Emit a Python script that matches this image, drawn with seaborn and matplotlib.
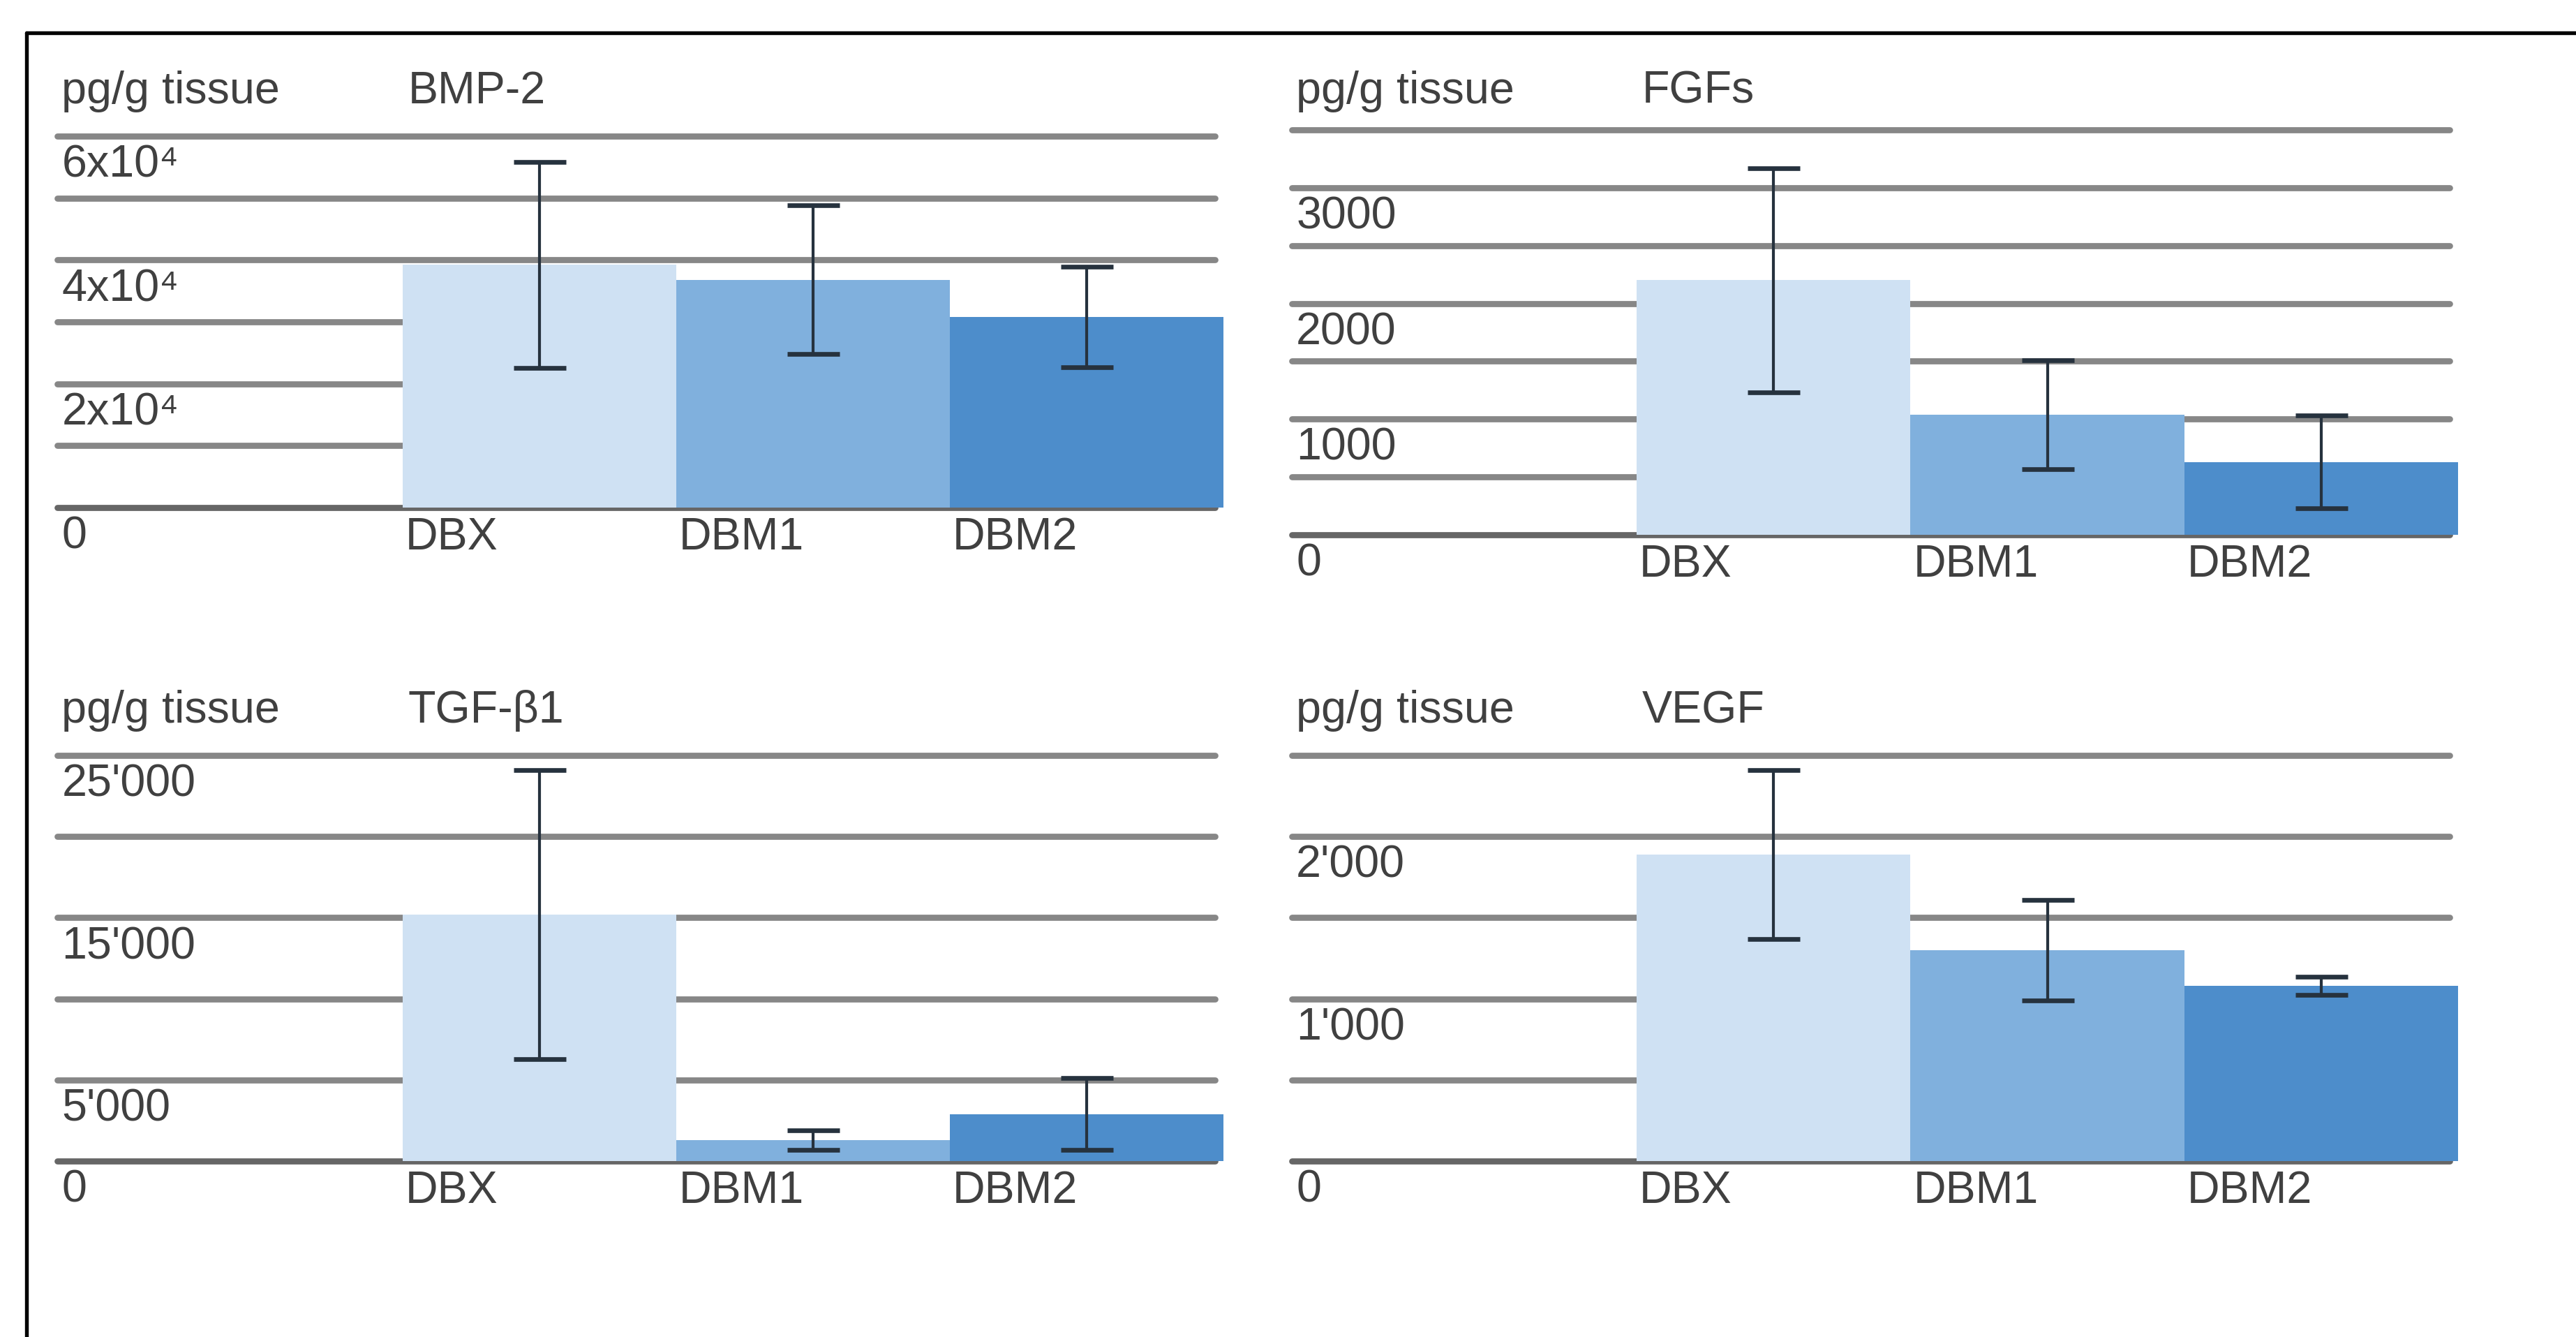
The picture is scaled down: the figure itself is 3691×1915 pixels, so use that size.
import numpy as np
import pandas as pd
import matplotlib
matplotlib.use("Agg")
import matplotlib.pyplot as plt
from matplotlib.lines import Line2D
import seaborn as sns

# ---------------- data ----------------
groups = ["DBX", "DBM1", "DBM2"]

bmp2_mean = [39200, 36800, 30800]
bmp2_err = [16600, 12000, 8100]

fgf_mean = [2200, 1040, 630]
fgf_err = [970, 470, 400]

tgf_mean = [15200, 1300, 2900]
tgf_err = [8900, 600, 2200]

vegf_mean = [1890, 1300, 1080]
vegf_err = [520, 310, 55]

titles = ["BMP-2", "FGFs", "TGF-β1", "VEGF"]
unit_label = "pg/g tissue"

bmp2_ticks = [0, 20000, 40000, 60000]
bmp2_ticklabels = ["0", "2x10⁴", "4x10⁴", "6x10⁴"]
fgf_ticks = [0, 1000, 2000, 3000]
fgf_ticklabels = ["0", "1000", "2000", "3000"]
tgf_ticks = [0, 5000, 15000, 25000]
tgf_ticklabels = ["0", "5'000", "15'000", "25'000"]
vegf_ticks = [0, 1000, 2000]
vegf_ticklabels = ["0", "1'000", "2'000"]

grid_steps = [10000, 500, 5000, 500]
y_tops = [60000, 3500, 25000, 2500]

# ---------------- style ----------------
sns.set_theme(style="white")
plt.rcParams["font.family"] = ["Liberation Sans", "DejaVu Sans"]
TXT = "#404040"
GRID = "#878787"
palette = {"DBX": "#cfe1f3", "DBM1": "#80b0dd", "DBM2": "#4d8dcb"}
ERR = "#26323e"
FS = 15.5

W, H = 3691, 1915
DPI = 300
fig = plt.figure(figsize=(W / DPI, H / DPI), dpi=DPI)
fig.patch.set_facecolor("white")

# panel geometry in pixels: x0, x1, y_top_gridline, y_zero, title_y, bar_left_px
geoms = [
    (82, 1753, 195, 727, 131, 577),
    (1851, 3522, 186, 766, 131, 2345),
    (82, 1753, 1082, 1663, 1018, 577),
    (1851, 3522, 1082, 1663, 1018, 2345),
]

means = [bmp2_mean, fgf_mean, tgf_mean, vegf_mean]
errs = [bmp2_err, fgf_err, tgf_err, vegf_err]
ticks = [bmp2_ticks, fgf_ticks, tgf_ticks, vegf_ticks]
ticklabels = [bmp2_ticklabels, fgf_ticklabels, tgf_ticklabels, vegf_ticklabels]

for i in range(4):
    x0, x1, yt, yz, ty, bl = geoms[i]
    ax = fig.add_axes([x0 / W, 1 - yz / H, (x1 - x0) / W, (yz - yt) / H])
    df = pd.DataFrame({"group": groups, "value": means[i]})
    sns.barplot(data=df, x="group", y="value", hue="group", palette=palette,
                order=groups, hue_order=groups, width=1.0, saturation=1,
                errorbar=None, legend=False, ax=ax, zorder=2, linewidth=0)
    ax.errorbar(np.arange(len(groups)), means[i], yerr=errs[i], fmt="none",
                ecolor=ERR, elinewidth=1.0, capsize=9, capthick=1.6, zorder=4)
    bar_w_px = (x1 - bl) / 3.0
    left = -0.5 - (bl - x0) / bar_w_px
    ax.set_xlim(left, 2.5)
    ax.set_ylim(0, y_tops[i])
    # horizontal rules
    for g in np.arange(0, y_tops[i] + grid_steps[i] / 2, grid_steps[i]):
        ax.axhline(g, xmin=0, xmax=0.993, color="#666666" if g == 0 else GRID,
                   lw=2.1, zorder=0, clip_on=False)
    for s in ax.spines.values():
        s.set_visible(False)
    ax.set_xticks([])
    ax.set_yticks([])
    ax.set_xlabel("")
    ax.set_ylabel("")
    ax.patch.set_alpha(0)
    # y tick labels just below their rule
    for v, lab in zip(ticks[i], ticklabels[i]):
        ax.annotate(lab, xy=(0, v), xycoords=("axes fraction", "data"),
                    xytext=(1.5, -2.8), textcoords="offset points",
                    ha="left", va="top", fontsize=FS, color=TXT,
                    annotation_clip=False)
    # category labels at the left edge of each bar
    for k, g in enumerate(groups):
        ax.annotate(g, xy=(k - 0.5, 0), xycoords="data",
                    xytext=(1.0, -3.0), textcoords="offset points",
                    ha="left", va="top", fontsize=FS, color=TXT,
                    annotation_clip=False)
    # headers
    fig.text((x0 + 6) / W, 1 - ty / H, unit_label, ha="left", va="center",
             fontsize=FS, color=TXT)
    fig.text((bl + 8) / W, 1 - ty / H, titles[i], ha="left", va="center",
             fontsize=FS, color=TXT)

# frame lines (left and top)
fig.add_artist(Line2D([38 / W, 38 / W], [0, 1 - 47 / H], color="black", lw=1.3,
                      transform=fig.transFigure))
fig.add_artist(Line2D([38 / W, 1], [1 - 47 / H, 1 - 47 / H], color="black", lw=1.3,
                      transform=fig.transFigure))

fig.savefig("out.png", dpi=DPI, facecolor="white")
